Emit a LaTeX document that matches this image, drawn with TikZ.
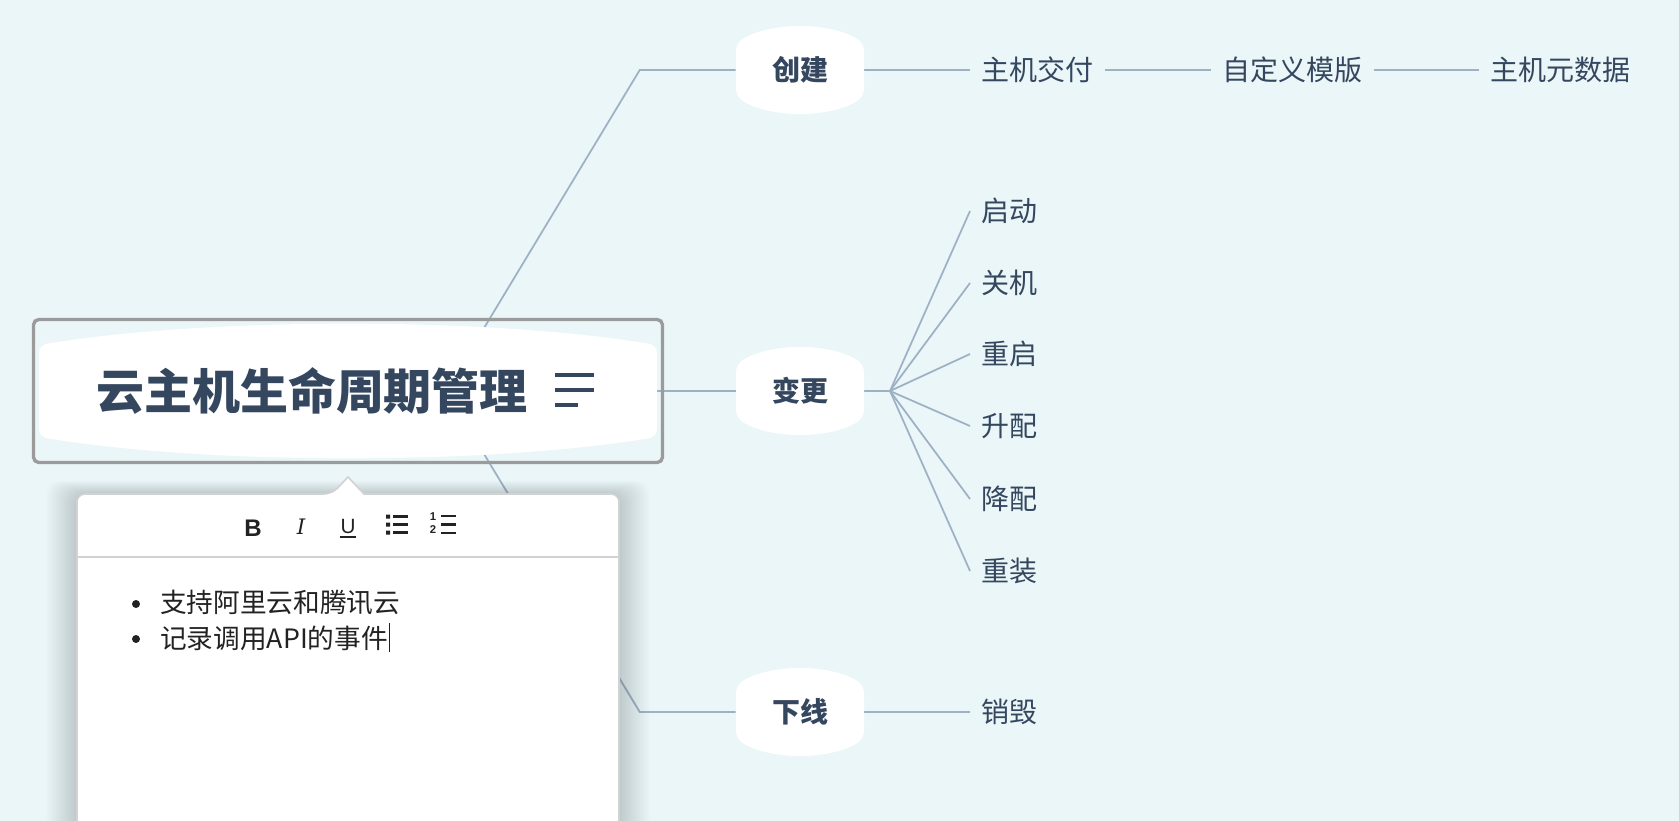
\documentclass[tikz,border=0pt]{standalone}
\usepackage{fontspec}
\newfontfamily\cjk{Noto Sans CJK SC}
\newfontfamily\uisans{Liberation Sans}
\newfontfamily\uiserif{DejaVu Serif}
\usetikzlibrary{calc}
\definecolor{bgc}{HTML}{EAF6F8}
\definecolor{linec}{HTML}{9DB0C4}
\definecolor{txt}{HTML}{34475F}
\definecolor{framec}{HTML}{9B9B9B}
\definecolor{popb}{HTML}{D2D2D2}
\definecolor{poptxt}{HTML}{222222}
\definecolor{shadowc}{HTML}{4A5A60}
\pgfdeclarelayer{bg}
\pgfdeclarelayer{lines}
\pgfdeclarelayer{shapes}
\pgfsetlayers{bg,lines,shapes,main}
% lens-like white shape: cx cy halfwidth halfside halfheight
\newcommand\lensat[5]{%
  \fill[white,rounded corners=6pt]
    ({#1-#3},{#2-#4}) .. controls ({#1-0.45*#3},{#2-#5-(#5-#4)/3}) and ({#1+0.45*#3},{#2-#5-(#5-#4)/3}) .. ({#1+#3},{#2-#4})
    -- ({#1+#3},{#2+#4}) .. controls ({#1+0.45*#3},{#2+#5+(#5-#4)/3}) and ({#1-0.45*#3},{#2+#5+(#5-#4)/3}) .. ({#1-#3},{#2+#4})
    -- cycle;}
\tikzset{
  topic/.style={font=\cjk\bfseries\fontsize{21}{25}\selectfont, text=txt, inner sep=0pt, minimum width=96pt, minimum height=64.5pt},
  leaf/.style={font=\cjk\fontsize{21}{25}\selectfont, text=txt, inner xsep=8.5pt, inner ysep=0pt, anchor=west},
  conn/.style={draw=linec, line width=1.3pt},
  popt/.style={font=\cjk\fontsize{20}{24}\selectfont, text=poptxt, inner sep=0pt, anchor=west},
  tool/.style={text=poptxt, inner sep=0pt},
  iconline/.style={draw=poptxt, line width=1.6pt},
}
\begin{document}
\begin{tikzpicture}[x=0.75pt,y=-0.75pt]
\useasboundingbox (0,0) rectangle (1679,821);
\clip (0,0) rectangle (1679,821);
\begin{pgfonlayer}{bg}
\fill[bgc] (0,0) rectangle (1679,821);
\end{pgfonlayer}

% ---------- nodes ----------
\node[draw=framec, line width=2.5pt, rounded corners=4pt, minimum width=471.75pt, minimum height=107.25pt, inner sep=0pt] (root) at (348,391) {};
\node[font=\cjk\bfseries\fontsize{36}{40}\selectfont, text=txt, inner sep=0pt] (title) at (312,391) {云主机生命周期管理};
\draw[txt, line width=2.4pt] (555,375) -- (594,375) (555,390) -- (594,390) (555,405) -- (578,405);

\node[topic] (create) at (800,70) {创建};
\node[topic] (change) at (800,391) {变更};
\node[topic] (offline) at (800,712) {下线};

\node[leaf] (deliver) at (970,70) {主机交付};
\node[leaf] (template) at (1211,70) {自定义模版};
\node[leaf] (meta) at (1479,70) {主机元数据};

\node[leaf] (start) at (970,211) {启动};
\node[leaf] (shutdown) at (970,283) {关机};
\node[leaf] (reboot) at (970,354) {重启};
\node[leaf] (up) at (970,426) {升配};
\node[leaf] (down) at (970,499) {降配};
\node[leaf] (reinstall) at (970,571) {重装};

\node[leaf] (destroy) at (970,712) {销毁};

\coordinate (hub) at (446,391);
\coordinate (fan) at (890,391);

% ---------- white shapes ----------
\begin{pgfonlayer}{shapes}
  \lensat{348}{391}{309}{46}{67}
  \lensat{800}{70}{64}{27}{43}
  \lensat{800}{391}{64}{27}{43}
  \lensat{800}{712}{64}{27}{43}
\end{pgfonlayer}

% ---------- connectors ----------
\begin{pgfonlayer}{lines}
  \draw[conn] (hub) -- ([xshift=-72pt]create.west) -- (create.west);
  \draw[conn] (hub) -- (change.west);
  \draw[conn] (hub) -- ([xshift=-72pt]offline.west) -- (offline.west);
  \draw[conn] (create.east) -- (deliver.west);
  \draw[conn] (deliver.east) -- (template.west);
  \draw[conn] (template.east) -- (meta.west);
  \draw[conn] (change.east) -- (fan);
  \foreach \t in {start,shutdown,reboot,up,down,reinstall}
    \draw[conn] (fan) -- (\t.west);
  \draw[conn] (offline.east) -- (destroy.west);
\end{pgfonlayer}

% ---------- popup ----------
\foreach \i in {1,...,22}
  \fill[shadowc, opacity=0.013, rounded corners=10pt] ({77-1.4*\i},{494-0.6*\i}) rectangle ({619+1.4*\i},840);
\draw[popb, line width=1.2pt, fill=white]
  (77,840) [rounded corners=6pt]-- (77,494) -- (332,494) [sharp corners]-- (348,477) -- (364,494) [rounded corners=6pt]-- (619,494) -- (619,840);
\draw[popb, line width=1.6pt] (78,557) -- (618,557);

\node[tool, font=\uisans\bfseries\fontsize{18}{18}\selectfont] (bold) at (253,528) {B};
\node[tool, font=\uiserif\itshape\fontsize{16}{16}\selectfont] (ital) at (301,527) {I};
\node[tool, font=\uisans\fontsize{15.5}{16}\selectfont] (under) at (348,526) {U};
\draw[poptxt, line width=1.3pt] ([yshift=-2.5pt]under.south west) -- ([yshift=-2.5pt]under.south east);
% bullet list icon
\fill[poptxt] (386,514.5) rectangle (390,518.5) (386,522.5) rectangle (390,526.5) (386,530.5) rectangle (390,534.5);
\draw[iconline] (393,516.5) -- (408,516.5) (393,524.5) -- (408,524.5) (393,532.5) -- (408,532.5);
% numbered list icon
\node[tool, font=\uisans\bfseries\fontsize{8.5}{9}\selectfont] (one) at (433,517) {1};
\node[tool, font=\uisans\bfseries\fontsize{8.5}{9}\selectfont] (two) at (433,530) {2};
\draw[iconline] (441,516) -- (456,516) (441,524.5) -- (456,524.5) (441,533) -- (456,533);

\fill[poptxt] (136,604) circle (3pt);
\fill[poptxt] (136,639) circle (3pt);
\node[popt] (item1) at (160,603) {支持阿里云和腾讯云};
\node[popt] (item2) at (160,638) {记录调用API的事件};
\draw[poptxt, line width=0.9pt] ($(item2.east)+(1,-15)$) -- ($(item2.east)+(1,14)$);
\end{tikzpicture}
\end{document}
